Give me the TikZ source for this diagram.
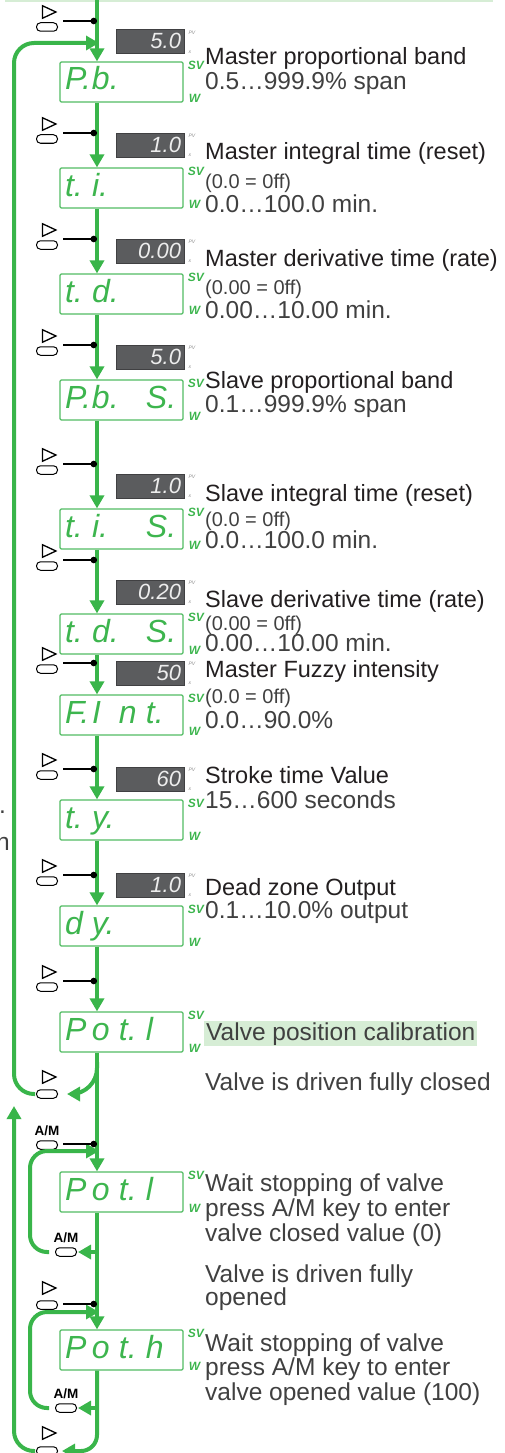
\documentclass[tikz,border=0pt]{standalone}
\usepackage{fontspec}
\setmainfont{Liberation Sans}
\usetikzlibrary{arrows.meta,positioning,shapes.geometric}
\definecolor{PGLine}{HTML}{39B54A}
\definecolor{PGBox}{HTML}{52BC63}
\definecolor{PGSeg}{HTML}{3DB54E}
\definecolor{PGPale}{HTML}{D6EDD5}
\definecolor{PGPV}{HTML}{5B5C5E}
\definecolor{PGPVText}{HTML}{EDEDED}
\definecolor{PGInk}{HTML}{231F20}
\definecolor{PGSoft}{HTML}{404040}
\definecolor{PGTiny}{HTML}{8A8A8A}
\newcommand\segcell[1]{\makebox[27pt][l]{#1}}
\tikzset{
  flow/.style={-{Triangle[length=13pt,width=14pt]},PGLine,line width=4pt},
  backflow/.style={flow,rounded corners=20pt},
  tie/.style={-{Circle[length=6.5pt]},black,line width=1.6pt,shorten <=5pt},
  svbox/.style={draw=PGBox,line width=1.2pt,fill=white,rounded corners=1.2pt,
                minimum width=123pt,minimum height=40pt,text width=113pt,
                inner xsep=5pt,align=left,text=PGSeg,text height=22pt,text depth=6pt,
                font=\fontsize{32}{32}\selectfont\itshape},
  pvbox/.style={fill=PGPV,draw=PGPV!70!black,line width=.6pt,minimum width=68pt,
                minimum height=21pt,text width=62pt,inner xsep=3pt,align=right,
                text=PGPVText,text height=16pt,text depth=1pt,
                font=\fontsize{22}{22}\selectfont\itshape},
  capsule/.style={draw,line width=1pt,rounded corners=4pt,minimum width=21pt,
                  minimum height=8.5pt,inner sep=0pt},
  playicon/.style={isosceles triangle,isosceles triangle apex angle=50,draw,
                   line width=1.3pt,inner sep=0pt,minimum width=12.5pt,minimum height=12.5pt},
  amlabel/.style={inner sep=0pt,font=\fontsize{13.5}{13.5}\selectfont\bfseries},
  svtag/.style={inner sep=0pt,text=PGSeg,font=\fontsize{12}{12}\selectfont\bfseries\itshape},
  pvtag/.style={inner sep=0pt,text=PGTiny,font=\fontsize{5}{5}\selectfont\itshape},
  parname/.style={anchor=base west,inner sep=0pt,text=PGInk,font=\fontsize{23.5}{26}\selectfont},
  parnote/.style={anchor=base west,inner sep=0pt,text=PGSoft,font=\fontsize{24.5}{27}\selectfont},
  parsmall/.style={parnote,font=\fontsize{20}{22}\selectfont},
}
\begin{document}
\begin{tikzpicture}[x=1pt,y=-1pt]
  \useasboundingbox (0,0) rectangle (505,1453);
  \draw[PGPale,line width=2pt] (5,1) -- (493,1);
  \coordinate (spine) at (97,0);
  \coordinate (spinetop) at (97,-4);

  % SV displays
  \node[svbox] (pb)    at (121.5,82)   {\segcell{P.}\segcell{b.}};
  \node[svbox] (ti)    at (121.5,188)  {\segcell{t.}\segcell{i.}};
  \node[svbox] (td)    at (121.5,294)  {\segcell{t.}\segcell{d.}};
  \node[svbox] (pbs)   at (121.5,400)  {\segcell{P.}\segcell{b.}\segcell{}\segcell{S.}};
  \node[svbox] (tis)   at (121.5,529)  {\segcell{t.}\segcell{i.}\segcell{}\segcell{S.}};
  \node[svbox] (tds)   at (121.5,634)  {\segcell{t.}\segcell{d.}\segcell{}\segcell{S.}};
  \node[svbox] (fint)  at (121.5,715)  {\segcell{F.}\segcell{I}\segcell{n}\segcell{t.}};
  \node[svbox] (ty)    at (121.5,820)  {\segcell{t.}\segcell{y.}};
  \node[svbox] (dy)    at (121.5,926)  {\segcell{d}\segcell{y.}};
  \node[svbox] (potl)  at (121.5,1032) {\segcell{P}\segcell{o}\segcell{t.}\segcell{l}};
  \node[svbox] (potla) at (121.5,1192) {\segcell{P}\segcell{o}\segcell{t.}\segcell{l}};
  \node[svbox] (poth)  at (121.5,1350) {\segcell{P}\segcell{o}\segcell{t.}\segcell{h}};
  \foreach \b in {pb,ti,td,pbs,tis,tds,fint,ty,dy,potl,potla,poth}{
    \node[svtag,anchor=north west] (sv\b) at ([xshift=4pt]\b.north east) {SV};
    \node[svtag,anchor=south west] (w\b) at ([xshift=5pt]\b.south east) {W};
  }

  % PV readouts
  \node[pvbox] (pv1) at (150,41.5) {5.0};
  \node[pvbox] (pv2) at (150,145)  {1.0};
  \node[pvbox] (pv3) at (150,251)  {0.00};
  \node[pvbox] (pv4) at (150,357)  {5.0};
  \node[pvbox] (pv5) at (150,486)  {1.0};
  \node[pvbox] (pv6) at (150,592)  {0.20};
  \node[pvbox] (pv7) at (150,673)  {50};
  \node[pvbox] (pv8) at (150,779)  {60};
  \node[pvbox] (pv9) at (150,885)  {1.0};
  \foreach \n in {1,...,9}{
    \node[pvtag,anchor=north west] (pvt\n) at ([xshift=4pt,yshift=-1pt]pv\n.north east) {PV};
    \node[pvtag,anchor=south west] (pvx\n) at ([xshift=4pt]pv\n.south east) {x};
  }

  % keys
  \foreach \n/\yy in {1/21,2/133,3/239,4/345,5/464,6/560,7/663,8/769,9/875,10/981}{
    \coordinate (dot\n) at (97,\yy);
    \node[capsule] (cap\n) at (47,\yy+6) {};
    \node[playicon] (tri\n) at (46.5,\yy-9) {};
  }
  \coordinate (dot11) at (97,1144);
  \node[capsule] (cap11) at (47,1145) {};
  \node[amlabel,above=4pt of cap11] (am11) {A/M};
  \coordinate (dot12) at (97,1304);
  \node[capsule] (cap12) at (47,1305) {};
  \node[playicon] (tri12) at (46.5,1288) {};
  \node[capsule] (back10) at (47,1094) {};
  \node[playicon] (backtri10) at (46.5,1077) {};
  \node[capsule] (amk11) at (66,1252) {};
  \node[amlabel,above=4pt of amk11] (amt11) {A/M};
  \node[capsule] (amk12) at (66,1408) {};
  \node[amlabel,above=4pt of amk12] (amt12) {A/M};
  \node[capsule] (back12) at (47,1451) {};
  \node[playicon] (backtri12) at (46.5,1433) {};

  % main flow
  \draw[flow] (spinetop) -- (pb.north -| spine);
  \foreach \a/\b in {pb/ti,ti/td,td/pbs,pbs/tis,tis/tds,tds/fint,fint/ty,ty/dy,dy/potl,potl/potla,potla/poth}
    \draw[flow] (\a.south -| spine) -- (\b.north -| spine);

  % returns
  \coordinate (rail) at (14,43);
  \coordinate (topin) at (99,43);
  \draw[backflow,shorten <=1pt] (back10.west) -| (rail) -- (topin);
  \coordinate (fork10) at (97,1062);
  \draw[flow,rounded corners=26pt,shorten >=9pt] (fork10) |- (back10.east);
  \coordinate (railup) at (14,1106);
  \draw[backflow,shorten <=1pt] (back12.west) -| (railup);
  \draw[flow,rounded corners=16pt,shorten >=4pt] (poth.south -| spine) |- (back12.east);

  \coordinate (fork11) at (97,1252);
  \draw[flow,shorten >=1pt] (fork11) -- (amk11.east);
  \coordinate (rail11) at (30,1151);
  \coordinate (in11) at (99,1151);
  \draw[backflow,rounded corners=17pt,shorten <=6pt] (amk11.west) -| (rail11) -- (in11);
  \coordinate (fork12) at (97,1408);
  \draw[flow,shorten >=1pt] (fork12) -- (amk12.east);
  \coordinate (rail12) at (30,1312);
  \coordinate (in12) at (99,1312);
  \draw[backflow,rounded corners=17pt,shorten <=6pt] (amk12.west) -| (rail12) -- (in12);

  \foreach \n in {1,...,12}
    \draw[tie] (cap\n.east |- dot\n) -- (dot\n);

  % descriptions
  \node[parname] (nm1) at (205,65)  {Master proportional band};
  \node[parnote] (rg1) at (205,90)  {0.5…999.9\% span};
  \node[parname] (nm2) at (205,160) {Master integral time (reset)};
  \node[parsmall] (of2) at (205,188) {(0.0 = 0ff)};
  \node[parnote] (rg2) at (205,212) {0.0…100.0 min.};
  \node[parname] (nm3) at (205,266) {Master derivative time (rate)};
  \node[parsmall] (of3) at (205,294) {(0.00 = 0ff)};
  \node[parnote] (rg3) at (205,318) {0.00…10.00 min.};
  \node[parname] (nm4) at (205,388) {Slave proportional band};
  \node[parnote] (rg4) at (205,412) {0.1…999.9\% span};
  \node[parname] (nm5) at (205,501) {Slave integral time (reset)};
  \node[parsmall] (of5) at (205,526) {(0.0 = 0ff)};
  \node[parnote] (rg5) at (205,548) {0.0…100.0 min.};
  \node[parname] (nm6) at (205,607) {Slave derivative time (rate)};
  \node[parsmall] (of6) at (205,630) {(0.00 = 0ff)};
  \node[parnote] (rg6) at (205,651) {0.00…10.00 min.};
  \node[parname] (nm7) at (205,677) {Master Fuzzy intensity};
  \node[parsmall] (of7) at (205,703) {(0.0 = 0ff)};
  \node[parnote] (rg7) at (205,728) {0.0…90.0\%};
  \node[parname] (nm8) at (205,783) {Stroke time Value};
  \node[parnote] (rg8) at (205,808) {15…600 seconds};
  \node[parname] (nm9) at (205,895) {Dead zone Output};
  \node[parnote] (rg9) at (205,918) {0.1…10.0\% output};
  \node[parnote,fill=PGPale,inner xsep=2pt,text height=19pt,text depth=6pt] (cal) at (204,1040)
    {Valve position calibration};
  \node[parnote] (shut) at (205,1090) {Valve is driven fully closed};
  \node[parnote] (wl1) at (205,1191) {Wait stopping of valve};
  \node[parnote] (wl2) at (205,1216) {press A/M key to enter};
  \node[parnote] (wl3) at (205,1241) {valve closed value (0)};
  \node[parnote] (op1) at (205,1282) {Valve is driven fully};
  \node[parnote] (op2) at (205,1305) {opened};
  \node[parnote] (wh1) at (205,1351) {Wait stopping of valve};
  \node[parnote] (wh2) at (205,1375) {press A/M key to enter};
  \node[parnote] (wh3) at (205,1400) {valve opened value (100)};
  \node[parnote] (cut1) at (-1,813) {.};
  \node[parnote] (cut2) at (-4,850) {n};
\end{tikzpicture}
\end{document}
